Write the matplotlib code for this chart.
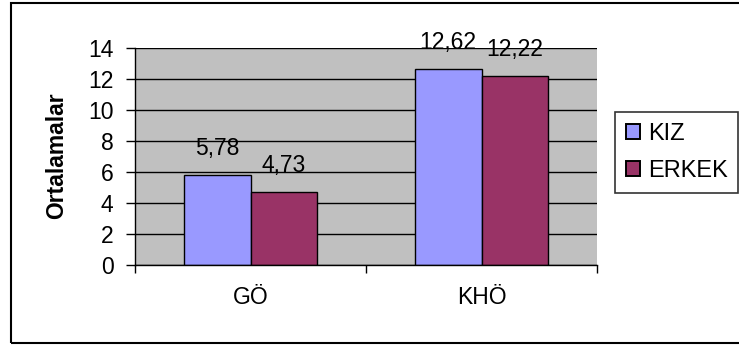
import numpy as np
import matplotlib.pyplot as plt
from matplotlib.patches import Rectangle

plt.rcParams['font.family'] = ['Liberation Sans', 'DejaVu Sans']

categories = ["GÖ", "KHÖ"]
series_names = ["KIZ", "ERKEK"]
kiz = [5.78, 12.62]
erkek = [4.73, 12.22]
value_labels_kiz = ["5,78", "12,62"]
value_labels_erkek = ["4,73", "12,22"]
yticks = [0, 2, 4, 6, 8, 10, 12, 14]

W, H = 739, 345
fs = 16.5
fig = plt.figure(figsize=(W / 100, H / 100), dpi=100)
fig.patch.set_facecolor("white")

# plot area in pixels
left, right, top, bottom = 135, 597, 48, 265
ax = fig.add_axes([left / W, 1 - bottom / H, (right - left) / W, (bottom - top) / H])
ax.set_facecolor("#C0C0C0")

x = np.arange(len(categories))
bw = 0.29
b1 = ax.bar(x - bw / 2, kiz, bw, color="#9999FF", edgecolor="black", linewidth=1.0,
            label=series_names[0], zorder=3)
b2 = ax.bar(x + bw / 2, erkek, bw, color="#993366", edgecolor="black", linewidth=1.0,
            label=series_names[1], zorder=3)

for bars, labs in [(b1, value_labels_kiz), (b2, value_labels_erkek)]:
    for r, t in zip(bars, labs):
        ax.annotate(t, (r.get_x() + r.get_width() / 2, r.get_height()),
                    xytext=(0, 14.4), textcoords="offset points",
                    ha="center", va="baseline", fontsize=fs, zorder=4,
                    annotation_clip=False)

ax.set_xlim(-0.5, len(categories) - 0.5)
ax.set_ylim(0, 14)
ax.set_yticks(yticks)
ax.set_yticklabels([str(v) for v in yticks], fontsize=fs)
ax.yaxis.grid(True, color="black", linewidth=1.0, zorder=1)
ax.set_axisbelow(True)

# category boundary ticks, labels at centers
ax.set_xticks([-0.5, 0.5, 1.5])
ax.set_xticklabels([])
ax.set_xticks(x, minor=True)
ax.set_xticklabels(categories, minor=True, fontsize=fs)
ax.tick_params(axis="x", which="major", length=6, width=1.0, direction="out")
ax.tick_params(axis="x", which="minor", length=0, pad=15)
ax.tick_params(axis="y", length=6.5, width=1.0, pad=9, direction="out")

for s in ["top", "right"]:
    ax.spines[s].set_visible(False)
for s in ["left", "bottom"]:
    ax.spines[s].set_linewidth(1.0)
    ax.spines[s].set_zorder(5)

ax.set_ylabel("Ortalamalar", fontsize=fs, fontweight="bold")
ax.yaxis.set_label_coords(-0.145, 0.505)

leg = fig.legend(loc="upper left", bbox_to_anchor=(615 / W, 1 - 112 / H),
                 borderaxespad=0, fontsize=17, frameon=True, fancybox=False,
                 edgecolor="black", handlelength=0.6, handleheight=0.6,
                 handletextpad=0.35, labelspacing=0.66, borderpad=0.45)
leg.get_frame().set_linewidth(1.2)
for h in leg.legend_handles:
    h.set_linewidth(1.4)

# outer chart border
fig.patches.append(Rectangle((11 / W, 1 - 343 / H), 1.0, (340) / H,
                             transform=fig.transFigure, fill=False,
                             edgecolor="black", linewidth=1.5))

fig.savefig("out.png", dpi=100)
